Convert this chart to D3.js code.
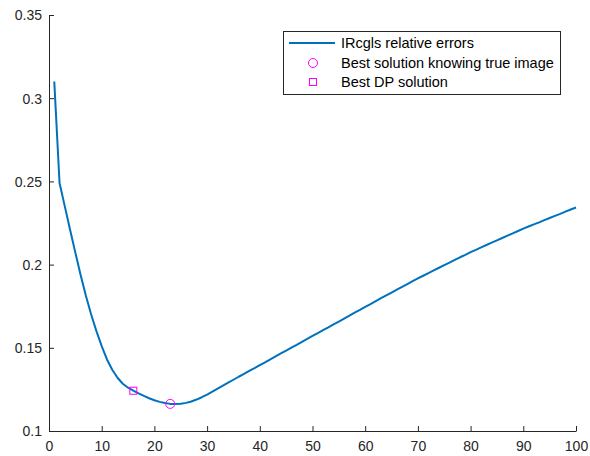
<!DOCTYPE html>
<html>
<head>
<meta charset="utf-8">
<script src="https://cdn.jsdelivr.net/npm/d3@7"></script>
<style>
  body { margin: 0; background: #fff; }
  svg { display: block; font-family: "Liberation Sans", Arial, sans-serif; }
</style>
</head>
<body>
<script>
const width = 590;
const height = 456;
const lineColor = "#0072BD";
const markColor = "#FF00FF";
const axisColor = "#262626";

// relative error per iteration, k = 1..100
const errors = [
  0.310, 0.249, 0.235, 0.2210, 0.2072, 0.1938, 0.1813, 0.1700, 0.1600, 0.1510,
  0.1430, 0.1368, 0.1320, 0.1284, 0.1260, 0.1242, 0.1226, 0.1211, 0.1197, 0.1185,
  0.1175, 0.1168, 0.1163, 0.1162, 0.1164, 0.1169, 0.1177, 0.1189, 0.1203, 0.1219,
  0.1236, 0.1254, 0.1272, 0.1290, 0.1308, 0.1326, 0.1343, 0.1361, 0.1378, 0.1396,
  0.1413, 0.1431, 0.1448, 0.1466, 0.1483, 0.1501, 0.1518, 0.1536, 0.1553, 0.1571,
  0.1588, 0.1606, 0.1623, 0.1641, 0.1658, 0.1676, 0.1693, 0.1711, 0.1728, 0.1746,
  0.1763, 0.1781, 0.1798, 0.1815, 0.1832, 0.1849, 0.1866, 0.1883, 0.1900, 0.1917,
  0.1933, 0.1949, 0.1965, 0.1981, 0.1997, 0.2012, 0.2028, 0.2044, 0.2059, 0.2075,
  0.2089, 0.2104, 0.2118, 0.2132, 0.2146, 0.2160, 0.2174, 0.2188, 0.2202, 0.2216,
  0.2229, 0.2242, 0.2254, 0.2267, 0.2280, 0.2293, 0.2305, 0.2318, 0.2331, 0.2343
];
const iterations = errors.map((d, i) => i + 1);

const bestTrue = {k: 23, err: 0.1163};
const bestDP = {k: 16, err: 0.1242};

const xTicks = [0, 10, 20, 30, 40, 50, 60, 70, 80, 90, 100];
const yTicks = [0.1, 0.15, 0.2, 0.25, 0.3, 0.35];
const legendLabels = ["IRcgls relative errors", "Best solution knowing true image", "Best DP solution"];

const margin = {top: 15, right: 14, bottom: 25, left: 49};

const x = d3.scaleLinear()
    .domain([0, 100])
    .range([margin.left, width - margin.right]);

const y = d3.scaleLinear()
    .domain([0.1, 0.35])
    .range([height - margin.bottom, margin.top]);

const svg = d3.select("body").append("svg")
    .attr("width", width)
    .attr("height", height);

// axes, ticks pointing inward like matlab
const xAxis = svg.append("g")
    .attr("transform", `translate(0,${y(0.1)})`)
    .call(d3.axisBottom(x).tickValues(xTicks).tickSize(-5).tickPadding(10).tickSizeOuter(0));

const yAxis = svg.append("g")
    .attr("transform", `translate(${x(0)},0)`)
    .call(d3.axisLeft(y).tickValues(yTicks).tickFormat(d3.format("")).tickSize(-5).tickPadding(7).tickSizeOuter(0));

[xAxis, yAxis].forEach(a => {
    a.selectAll("path, line").attr("stroke", axisColor).attr("stroke-width", 1);
    a.selectAll("text").attr("fill", axisColor).style("font-size", "14px");
});
yAxis.selectAll("text").attr("dy", "0.35em");

// the curve
const line = d3.line()
    .x((d, i) => x(iterations[i]))
    .y(d => y(d));

svg.append("path")
    .datum(errors)
    .attr("fill", "none")
    .attr("stroke", lineColor)
    .attr("stroke-width", 2)
    .attr("stroke-linejoin", "round")
    .attr("d", line);

svg.append("circle")
    .attr("cx", x(bestTrue.k))
    .attr("cy", y(bestTrue.err))
    .attr("r", 4.5)
    .attr("fill", "none")
    .attr("stroke", markColor);

svg.append("rect")
    .attr("x", x(bestDP.k) - 3.5)
    .attr("y", y(bestDP.err) - 3.5)
    .attr("width", 7)
    .attr("height", 7)
    .attr("fill", "none")
    .attr("stroke", markColor);

// legend
const legend = svg.append("g").attr("transform", "translate(283,31)");

legend.append("rect")
    .attr("x", 0.5).attr("y", 0.5)
    .attr("width", 277).attr("height", 63)
    .attr("fill", "#fff")
    .attr("stroke", axisColor)
    .attr("stroke-width", 1);

const rowY = [12, 32, 51];

legend.append("line")
    .attr("x1", 6).attr("x2", 52)
    .attr("y1", rowY[0]).attr("y2", rowY[0])
    .attr("stroke", lineColor)
    .attr("stroke-width", 2);

legend.append("circle")
    .attr("cx", 30).attr("cy", rowY[1])
    .attr("r", 4.5)
    .attr("fill", "none")
    .attr("stroke", markColor);

legend.append("rect")
    .attr("x", 26.5).attr("y", rowY[2] - 3.5)
    .attr("width", 7).attr("height", 7)
    .attr("fill", "none")
    .attr("stroke", markColor);

legend.selectAll("text.lab")
    .data(legendLabels)
    .enter().append("text")
    .attr("class", "lab")
    .attr("x", 58)
    .attr("y", (d, i) => rowY[i])
    .attr("dy", "0.35em")
    .attr("fill", "#000")
    .style("font-size", "14.5px")
    .text(d => d);
</script>
</body>
</html>
